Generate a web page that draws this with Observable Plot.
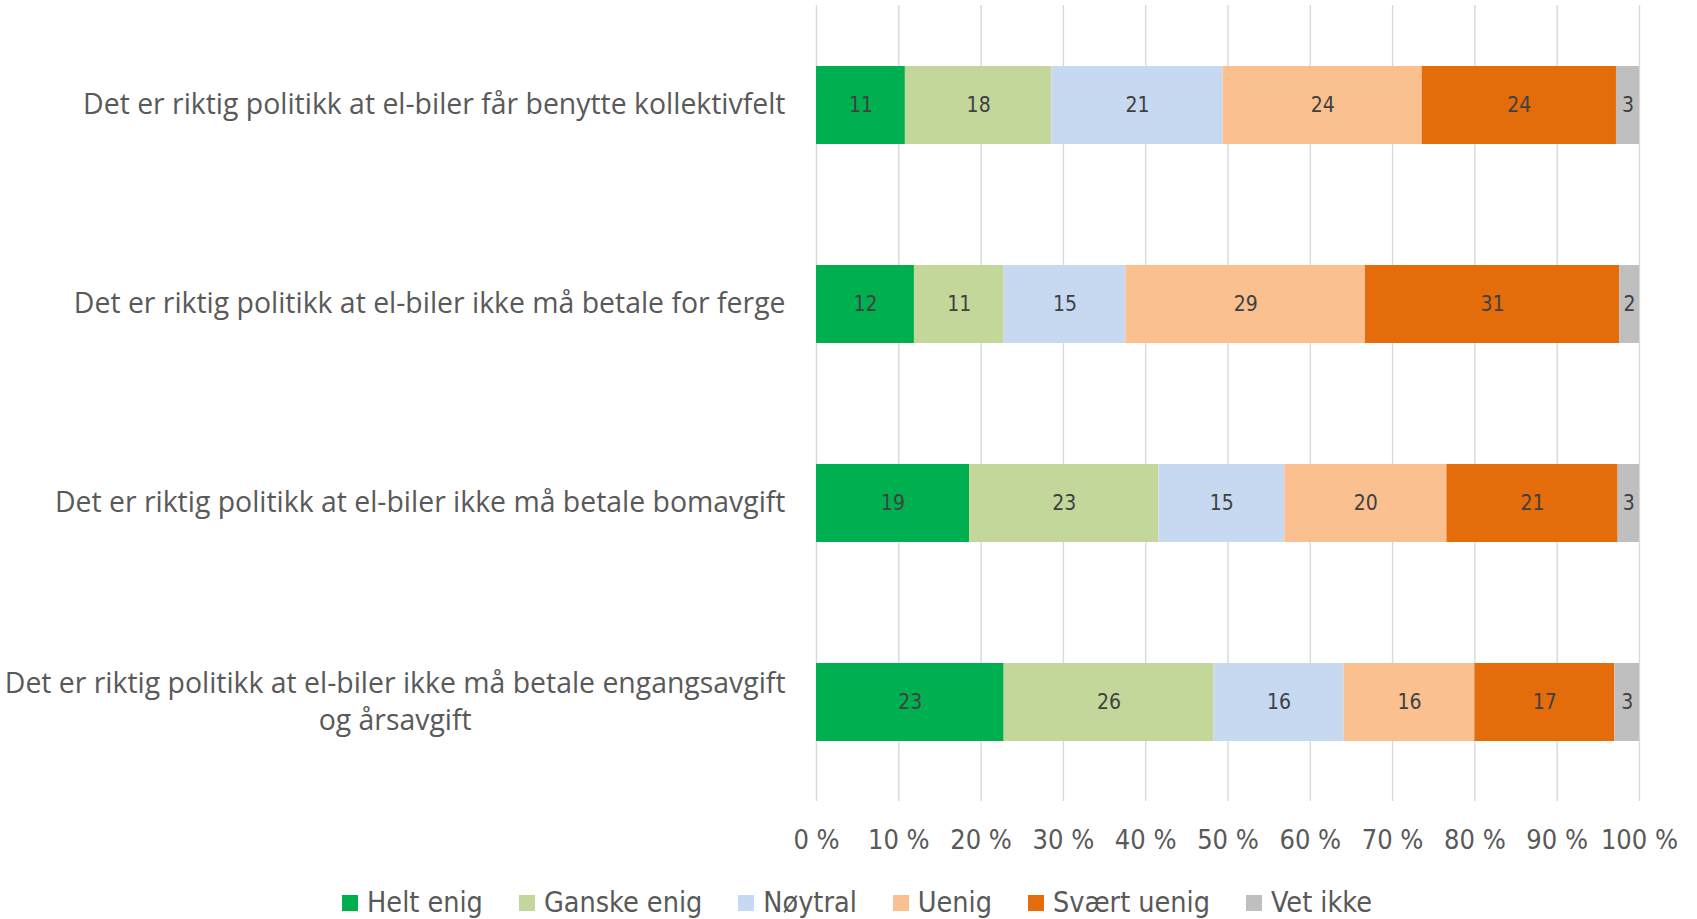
<!DOCTYPE html>
<html>
<head>
<meta charset="utf-8">
<script src="https://cdn.jsdelivr.net/npm/d3@7"></script>
<script src="https://cdn.jsdelivr.net/npm/@observablehq/plot@0.6"></script>
<style>
  html, body { margin: 0; padding: 0; background: #fff; }
  #legend {
    display: flex; justify-content: center; align-items: center;
    height: 49px; box-sizing: border-box; padding-top: 16px; padding-left: 17px;
    font-family: "DejaVu Sans Condensed", "DejaVu Sans", sans-serif; font-stretch: condensed;
    font-size: 28.5px; color: #595959;
  }
  .item { display: flex; align-items: center; margin: 0 18px; }
  .sw { width: 16px; height: 16px; margin-right: 9px; }
</style>
</head>
<body>
<div id="chart"></div>
<div id="legend"></div>
<script>
const statements = [
  "Det er riktig politikk at el-biler får benytte kollektivfelt",
  "Det er riktig politikk at el-biler ikke må betale for ferge",
  "Det er riktig politikk at el-biler ikke må betale bomavgift",
  "Det er riktig politikk at el-biler ikke må betale engangsavgift\nog årsavgift"
];
const categories = ["Helt enig", "Ganske enig", "Nøytral", "Uenig", "Svært uenig", "Vet ikke"];
const colors = ["#00B050", "#C4D79B", "#C6D9F1", "#FAC090", "#E46C0A", "#BFBFBF"];
// values per statement, in category order (percent)
const valuesKollektivfelt = [10.8, 17.8, 20.8, 24.2, 23.6, 2.8];
const valuesFerge = [11.9, 10.9, 14.8, 29.1, 30.9, 2.4];
const valuesBomavgift = [18.6, 23.0, 15.3, 19.7, 20.8, 2.6];
const valuesEngangsavgift = [22.8, 25.5, 15.8, 15.9, 17.0, 3.0];
const xTicks = [0, 10, 20, 30, 40, 50, 60, 70, 80, 90, 100];

const series = [valuesKollektivfelt, valuesFerge, valuesBomavgift, valuesEngangsavgift];
const data = [];
statements.forEach((s, i) => categories.forEach((c, j) => data.push({statement: s, category: c, value: series[i][j]})));

const condensed = "'DejaVu Sans Condensed', 'DejaVu Sans', sans-serif";

const plot = Plot.plot({
  width: 1697,
  height: 870,
  marginLeft: 816,
  marginRight: 58,
  marginTop: 5,
  marginBottom: 69,
  x: {domain: [0, 100]},
  y: {domain: statements, paddingInner: 0.61, paddingOuter: 0.305},
  color: {domain: categories, range: colors},
  marks: [
    Plot.gridX(xTicks, {stroke: "#D9D9D9", strokeOpacity: 1, strokeWidth: 1.4}),
    Plot.barX(data, Plot.stackX({x: "value", y: "statement", fill: "category", order: categories})),
    Plot.text(data, Plot.stackX({x: "value", y: "statement", z: "category", order: categories,
      text: d => String(Math.round(d.value)), fill: "#404040", fontSize: 21, fontFamily: condensed})),
    Plot.axisX({ticks: xTicks, tickSize: 0, tickPadding: 28, tickFormat: d => d + " %",
      fontSize: 27, fontFamily: condensed, fill: "#595959", label: null}),
    Plot.axisY({tickSize: 0, tickPadding: 31, fontSize: 28.4, fontFamily: "'Open Sans', sans-serif",
      fill: "#595959", lineHeight: 1.3, dy: -3, label: null})
  ]
});
plot.querySelectorAll("text").forEach(t => t.style.fontStretch = "condensed");
document.getElementById("chart").appendChild(plot);

// center the second line of wrapped labels under the first
plot.querySelectorAll('g[aria-label="y-axis tick label"] text').forEach(t => {
  t.style.fontStretch = "normal";
  const spans = t.querySelectorAll("tspan");
  if (spans.length === 2) {
    const w1 = spans[0].getComputedTextLength();
    const w2 = spans[1].getComputedTextLength();
    spans[1].setAttribute("x", -(w1 - w2) / 2);
  }
});

const legend = document.getElementById("legend");
categories.forEach((c, i) => {
  const item = document.createElement("div");
  item.className = "item";
  item.innerHTML = `<span class="sw" style="background:${colors[i]}"></span><span>${c}</span>`;
  legend.appendChild(item);
});
</script>
</body>
</html>
